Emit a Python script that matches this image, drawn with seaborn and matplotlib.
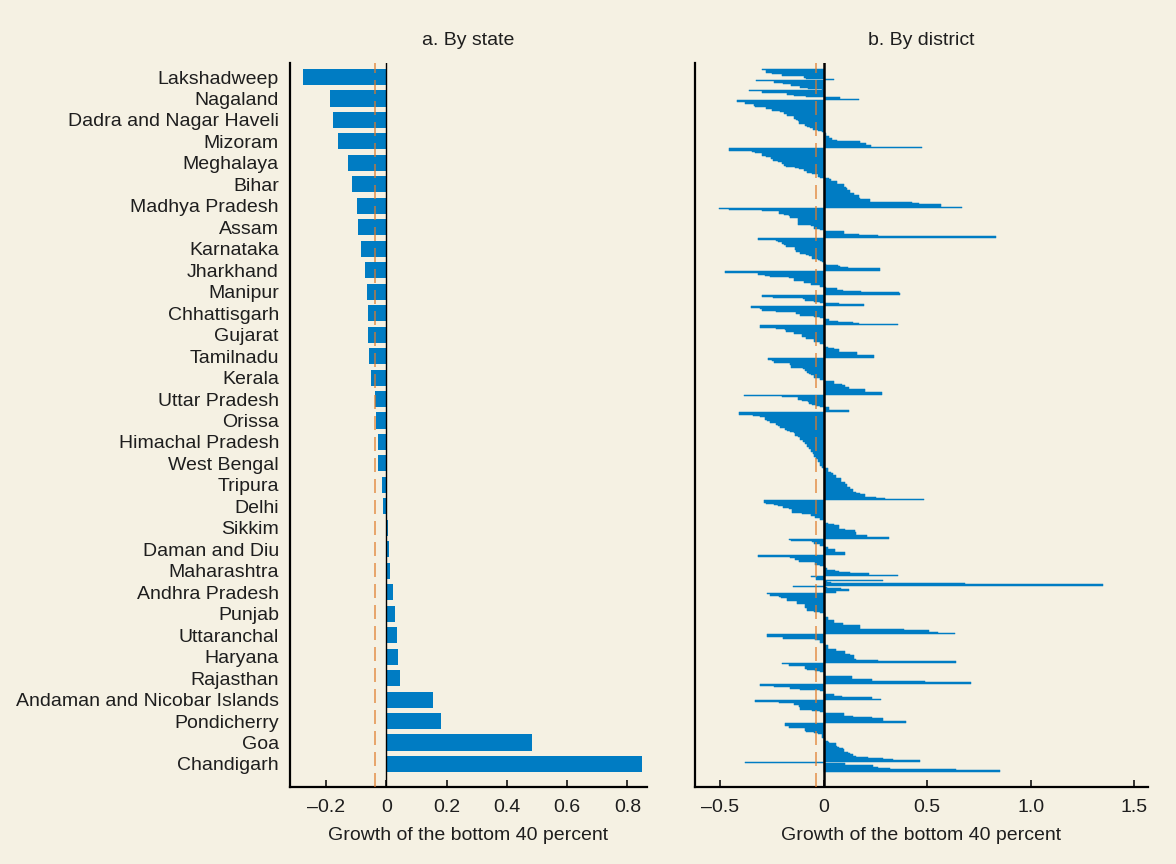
import matplotlib
matplotlib.use("Agg")
import matplotlib.pyplot as plt
import seaborn as sns
import pandas as pd

# ---------------- data ----------------
states = ["Lakshadweep", "Nagaland", "Dadra and Nagar Haveli", "Mizoram", "Meghalaya",
          "Bihar", "Madhya Pradesh", "Assam", "Karnataka", "Jharkhand", "Manipur",
          "Chhattisgarh", "Gujarat", "Tamilnadu", "Kerala", "Uttar Pradesh", "Orissa",
          "Himachal Pradesh", "West Bengal", "Tripura", "Delhi", "Sikkim", "Daman and Diu",
          "Maharashtra", "Andhra Pradesh", "Punjab", "Uttaranchal", "Haryana", "Rajasthan",
          "Andaman and Nicobar Islands", "Pondicherry", "Goa", "Chandigarh"]
state_growth = [-0.277, -0.187, -0.177, -0.161, -0.127, -0.114, -0.097, -0.094, -0.084,
                -0.071, -0.064, -0.061, -0.061, -0.058, -0.051, -0.038, -0.034, -0.028,
                -0.028, -0.014, -0.011, 0.004, 0.009, 0.012, 0.022, 0.029, 0.035, 0.039,
                0.045, 0.155, 0.182, 0.484, 0.849]

# district growth, one value per district, grouped by state (same order as states)
d_lakshadweep = [-0.300]
d_nagaland = [-0.277, -0.277, -0.248, -0.200, -0.200, -0.093, -0.084, 0.050]
d_dadra = [-0.325]
d_mizoram = [-0.238, -0.195, -0.156, -0.156, -0.113, -0.074, -0.010]
d_meghalaya = [-0.360, -0.296, -0.176, -0.176, -0.142, -0.084, 0.080, 0.170]
d_bihar = [-0.42, -0.42, -0.378, -0.335, -0.335, -0.33, -0.277, -0.248, -0.248, -0.21,
           -0.19, -0.176, -0.176, -0.146, -0.146, -0.132, -0.122, -0.118, -0.118, -0.089,
           -0.089, -0.079, -0.064, -0.05, -0.03, -0.01, 0.005, 0.013, 0.013, 0.027, 0.027,
           0.04, 0.066, 0.177, 0.177, 0.206, 0.23, 0.23, 0.477]
d_madhya = [-0.456, -0.456, -0.345, -0.33, -0.30, -0.30, -0.277, -0.253, -0.253, -0.243,
            -0.219, -0.20, -0.20, -0.19, -0.18, -0.137, -0.118, -0.093, -0.079, -0.079,
            -0.055, -0.03, -0.03, -0.016, 0.027, 0.037, 0.066, 0.066, 0.066, 0.10, 0.10,
            0.11, 0.114, 0.114, 0.129, 0.129, 0.148, 0.148, 0.172, 0.172, 0.177, 0.225,
            0.225, 0.428, 0.462, 0.568, 0.568, 0.67]
d_assam = [-0.504, -0.46, -0.296, -0.214, -0.214, -0.19, -0.166, -0.161, -0.122, -0.122,
           -0.122, -0.122, -0.122, -0.122, -0.06, -0.045, -0.045, -0.016, 0.008, 0.10,
           0.10, 0.172, 0.264, 0.834]
d_karnataka = [-0.316, -0.316, -0.229, -0.219, -0.20, -0.19, -0.18, -0.18, -0.137, -0.137,
               -0.132, -0.132, -0.113, -0.084, -0.069, -0.055, -0.055, -0.026, -0.016,
               -0.006, 0.005, 0.013, 0.071, 0.08, 0.119, 0.274, 0.274]
d_jharkhand = [-0.475, -0.475, -0.316, -0.282, -0.258, -0.166, -0.142, -0.142, -0.093,
               -0.093, -0.06, -0.016, -0.016, 0.013, 0.066, 0.095, 0.182, 0.366, 0.37]
d_manipur = [-0.30, -0.296, -0.243, -0.098, -0.089, -0.045, -0.016, 0.076, 0.196]
d_chhattisgarh = [-0.35, -0.35, -0.306, -0.30, -0.233, -0.132, -0.132, -0.113, -0.045,
                  -0.016, 0.008, 0.027, 0.071, 0.143, 0.172, 0.36]
d_gujarat = [-0.31, -0.31, -0.229, -0.185, -0.18, -0.142, -0.142, -0.103, -0.103, -0.084,
             -0.084, -0.045, -0.045, -0.016, -0.016, 0.003, 0.008, 0.023, 0.05, 0.076,
             0.076, 0.163, 0.163, 0.163, 0.245, 0.245]
d_tamilnadu = [-0.267, -0.267, -0.248, -0.238, -0.161, -0.161, -0.156, -0.156, -0.098,
               -0.089, -0.089, -0.079, -0.069, -0.06, -0.045, -0.045, -0.016, -0.016,
               0.008, 0.05, 0.05, 0.09, 0.105, 0.105, 0.124, 0.20, 0.20, 0.20, 0.283, 0.283]
d_kerala = [-0.383, -0.20, -0.122, -0.122, -0.103, -0.074, -0.069, -0.055, -0.035, -0.016,
            0.027, 0.027, 0.124, 0.124]
d_uttar = [-0.41, -0.41, -0.34, -0.31, -0.282, -0.282, -0.272, -0.258, -0.258, -0.229,
           -0.219, -0.21, -0.21, -0.185, -0.176, -0.161, -0.146, -0.137, -0.137, -0.122,
           -0.113, -0.113, -0.098, -0.098, -0.089, -0.089, -0.079, -0.079, -0.069, -0.069,
           -0.06, -0.06, -0.05, -0.05, -0.045, -0.045, -0.035, -0.035, -0.026, -0.026,
           -0.016, -0.016, -0.016, -0.006, -0.006, 0.023, 0.023, 0.023, 0.037, 0.047,
           0.047, 0.061, 0.061, 0.085, 0.085, 0.085, 0.105, 0.105, 0.114, 0.114, 0.129,
           0.129, 0.143, 0.143, 0.158, 0.177, 0.20, 0.20, 0.254, 0.298, 0.486]
d_orissa = [-0.287, -0.287, -0.277, -0.238, -0.219, -0.195, -0.166, -0.151, -0.151, -0.151,
            -0.103, -0.06, -0.06, -0.04, -0.016, -0.016, 0.008, 0.008, 0.023, 0.05, 0.076,
            0.076, 0.076, 0.105, 0.153, 0.153, 0.158, 0.158, 0.21, 0.21, 0.317]
d_himachal = [-0.17, -0.156, -0.055, -0.045, -0.016, -0.016, 0.008, 0.023, 0.056, 0.056,
              0.056, 0.105, 0.105]
d_westbengal = [-0.316, -0.316, -0.161, -0.137, -0.118, -0.118, -0.04, -0.04, -0.016,
                0.008, 0.008, 0.018, 0.056, 0.076, 0.129, 0.22, 0.36]
d_tripura = [-0.06, -0.035, -0.035, 0.288]
d_delhi = [0.016, 0.037, 0.684, 1.35]
d_sikkim = [-0.147, 0.016, 0.085, 0.124]
d_daman = [0.061, 0.061]
d_maharashtra = [-0.272, -0.258, -0.214, -0.205, -0.176, -0.176, -0.127, -0.127, -0.127,
                 -0.089, -0.089, -0.089, -0.079, -0.079, -0.045, -0.016, 0.004, 0.004,
                 0.008, 0.023, 0.023, 0.023, 0.05, 0.05, 0.095, 0.095, 0.177, 0.177,
                 0.177, 0.39, 0.51, 0.55, 0.636]
d_andhra = [-0.272, -0.272, -0.195, -0.195, -0.04, -0.016, -0.016, 0.004, 0.008, 0.023,
            0.023, 0.023, 0.061, 0.061, 0.105, 0.105, 0.129, 0.148, 0.148, 0.148, 0.158,
            0.26, 0.64]
d_punjab = [-0.20, -0.166, -0.166, -0.089, -0.089, -0.079, -0.04, -0.016, 0.004, 0.004,
            0.008, 0.138, 0.138, 0.235, 0.235, 0.49, 0.713]
d_uttaranchal = [-0.31, -0.31, -0.238, -0.161, -0.113, -0.016, 0.004, 0.008, 0.05, 0.05,
                 0.09, 0.235, 0.278]
d_haryana = [-0.33, -0.33, -0.214, -0.142, -0.118, -0.118, -0.113, -0.113, -0.055, -0.016,
             0.008, 0.10, 0.10, 0.143, 0.235, 0.288, 0.288, 0.40, 0.40]
d_rajasthan = [-0.185, -0.185, -0.17, -0.17, -0.089, -0.089, -0.084, -0.045, -0.03, -0.01,
               -0.01, -0.01, 0.004, 0.008, 0.019, 0.027, 0.061, 0.061, 0.066, 0.076,
               0.095, 0.10, 0.10, 0.119, 0.129, 0.143, 0.158, 0.216, 0.288, 0.336, 0.467]
d_andaman = [-0.378, 0.105]
d_pondicherry = [0.105, 0.24, 0.264]
d_goa = [0.322, 0.64]
d_chandigarh = [0.853]

national_growth = -0.037

left_ticks = [-0.2, 0, 0.2, 0.4, 0.6, 0.8]
left_ticklabels = ["\u20130.2", "0", "0.2", "0.4", "0.6", "0.8"]
right_ticks = [-0.5, 0, 0.5, 1.0, 1.5]
right_ticklabels = ["\u20130.5", "0", "0.5", "1.0", "1.5"]
title_left = "a. By state"
title_right = "b. By district"
xlabel = "Growth of the bottom 40 percent"

# ---------------- style ----------------
BG = "#f5f1e3"
BLUE = "#007cc3"
ORANGE = "#e07b2a"
TXT = "#1e1e1e"
plt.rcParams["font.family"] = ["Liberation Sans", "DejaVu Sans"]
plt.rcParams["font.size"] = 14

district_groups = [d_lakshadweep, d_nagaland, d_dadra, d_mizoram, d_meghalaya, d_bihar,
                   d_madhya, d_assam, d_karnataka, d_jharkhand, d_manipur, d_chhattisgarh,
                   d_gujarat, d_tamilnadu, d_kerala, d_uttar, d_orissa, d_himachal,
                   d_westbengal, d_tripura, d_delhi, d_sikkim, d_daman, d_maharashtra,
                   d_andhra, d_punjab, d_uttaranchal, d_haryana, d_rajasthan, d_andaman,
                   d_pondicherry, d_goa, d_chandigarh]
rows = []
for st, vals in zip(states, district_groups):
    for v in vals:
        rows.append((st, v))
ddf = pd.DataFrame(rows, columns=["state", "growth"])
ddf["pos"] = range(len(ddf))
sdf = pd.DataFrame({"state": states, "growth": state_growth})

W, H = 1176, 864
fig = plt.figure(figsize=(W / 100, H / 100), dpi=100, facecolor=BG)
top_px, bot_px = 63, 787
axL = fig.add_axes([290 / W, 1 - bot_px / H, (647 - 290) / W, (bot_px - top_px) / H])
axR = fig.add_axes([695 / W, 1 - bot_px / H, (1148 - 695) / W, (bot_px - top_px) / H])

# ---- left panel ----
sns.barplot(data=sdf, x="growth", y="state", orient="h", color=BLUE, width=0.75,
            saturation=1, linewidth=0, errorbar=None, ax=axL)
n = len(states)
sp = (764 - 77) / (n - 1)
axL.set_ylim(n - 1 + (bot_px - 764) / sp, -(77 - top_px) / sp)
axL.set_xlim(-0.32, 0.865)

# ---- right panel ----
sns.barplot(data=ddf, x="growth", y="pos", orient="h", native_scale=True, color=BLUE,
            width=1.0, saturation=1, linewidth=0.35, edgecolor=BLUE, errorbar=None, ax=axR)
N = len(ddf)
spd = (771 - 69.6) / (N - 1)
axR.set_ylim(N - 1 + (bot_px - 771) / spd, -(69.6 - top_px) / spd)
axR.set_xlim(-0.622, 1.567)
axR.set_yticks([])

for ax, ticks, labels, title, zlw in [(axL, left_ticks, left_ticklabels, title_left, 1.0),
                                      (axR, right_ticks, right_ticklabels, title_right, 1.8)]:
    ax.set_facecolor(BG)
    ax.axvline(national_growth, color=ORANGE, alpha=0.65, lw=1.4, dashes=(7.2, 3.6), zorder=5)
    ax.axvline(0, color="black", lw=zlw, zorder=6)
    ax.set_xticks(ticks)
    ax.set_xticklabels(labels)
    ax.tick_params(axis="x", direction="in", length=5, width=1.1, pad=8.5, colors="black",
                   labelcolor=TXT, labelsize=14)
    ax.tick_params(axis="y", length=0, pad=8, labelcolor=TXT, labelsize=14)
    for s in ["top", "right"]:
        ax.spines[s].set_visible(False)
    for s in ["left", "bottom"]:
        ax.spines[s].set_linewidth(1.6)
        ax.spines[s].set_color("black")
    ax.set_xlabel(xlabel, color=TXT, fontsize=14, labelpad=8)
    ax.set_ylabel("")
    ax.set_title(title, color=TXT, fontsize=14, pad=13)

fig.savefig("out.png", dpi=100, facecolor=BG)
